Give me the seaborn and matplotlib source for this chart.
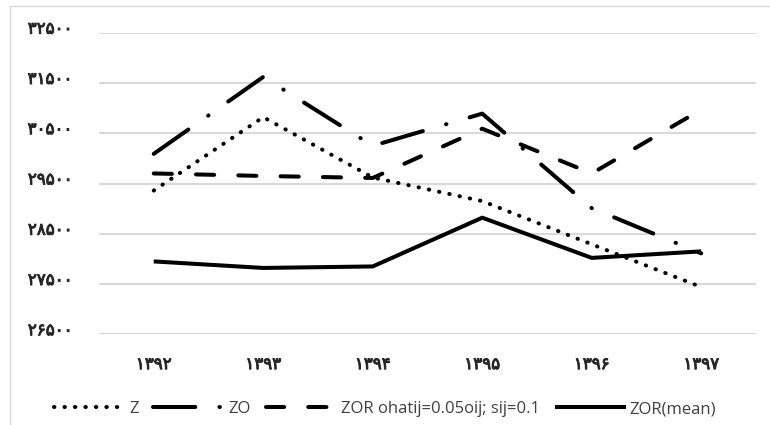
import numpy as np
import pandas as pd
import matplotlib
matplotlib.use('Agg')
import matplotlib.pyplot as plt
import matplotlib.patheffects as pe
from matplotlib.patches import Rectangle
from matplotlib.transforms import ScaledTranslation
import seaborn as sns

# data
years = ['۱۳۹۲', '۱۳۹۳', '۱۳۹۴', '۱۳۹۵', '۱۳۹۶', '۱۳۹۷']
z_vals = [29360, 30820, 29620, 29150, 28290, 27440]
zo_vals = [30090, 31620, 30250, 30890, 29010, 28110]
zor_oij_vals = [29700, 29650, 29610, 30590, 29700, 30970]
zor_mean_vals = [27950, 27820, 27850, 28820, 28020, 28150]
series_names = ['Z', 'ZO', 'ZOR ohatij=0.05oij; sij=0.1', 'ZOR(mean)']
yticks = [26500, 27500, 28500, 29500, 30500, 31500, 32500]

fa_digits = str.maketrans('0123456789', '۰۱۲۳۴۵۶۷۸۹')
ytick_labels = [str(t).translate(fa_digits) for t in yticks]

sns.set_style('white')
plt.rcParams['font.family'] = ['Open Sans', 'DejaVu Sans']

fig = plt.figure(figsize=(7.7, 4.25), dpi=100)
ax = fig.add_axes([99/770, 1-334.3/425, (756-99)/770, (334.3-32.7)/425])

lw = 2.9
styles = [(0, (0.1, 2.5)),
          (0, (10.5, 6, 0.1, 6)),
          (0, (4.5, 6)),
          '-']
all_vals = [z_vals, zo_vals, zor_oij_vals, zor_mean_vals]

for name, vals, ls in zip(series_names, all_vals, styles):
    sns.lineplot(x=years, y=vals, ax=ax, color='black', linewidth=lw, sort=False, label=name)
    line = ax.lines[-1]
    line.set_linestyle(ls)
    line.set_dash_capstyle('round')
    line.set_solid_capstyle('butt')

tick_col = '#262626'
thicken = [pe.withStroke(linewidth=0.7, foreground=tick_col)]

ax.set_ylim(26500, 32500)
ax.set_xlim(-0.5, 5.5)
ax.set_yticks(yticks)
ax.set_yticklabels(ytick_labels, family=['DejaVu Sans'], path_effects=thicken)
ax.set_xticks(range(len(years)))
ax.set_xticklabels(years, family=['DejaVu Sans'], path_effects=thicken)
ax.set_xlabel('')
ax.set_ylabel('')
ax.grid(axis='y', color='#d9d9d9', linewidth=1.5)
ax.set_axisbelow(True)
for s in ax.spines.values():
    s.set_visible(False)
ax.tick_params(axis='y', length=0, pad=19, labelsize=12, labelcolor=tick_col)
ax.tick_params(axis='x', length=0, pad=15, labelsize=12, labelcolor=tick_col)

# persian digits sit a little above the gridline in the original
shift = ScaledTranslation(0, 6/100, fig.dpi_scale_trans)
for lab in ax.get_yticklabels():
    lab.set_transform(lab.get_transform() + shift)

ax.get_legend().remove()
handles, labels = ax.get_legend_handles_labels()
fig.legend(handles, labels, loc='center', bbox_to_anchor=(0.5, 1-409/425), ncol=4,
           frameon=False, fontsize=12, handlelength=4.3, handletextpad=0.2,
           columnspacing=0.9, labelcolor='#404040')

fig.patches.append(Rectangle((10/770, -0.02), 1.0, 1-6/425+0.02, transform=fig.transFigure,
                             fill=False, edgecolor='#d9d9d9', linewidth=1))

fig.savefig('out.png', dpi=100)
